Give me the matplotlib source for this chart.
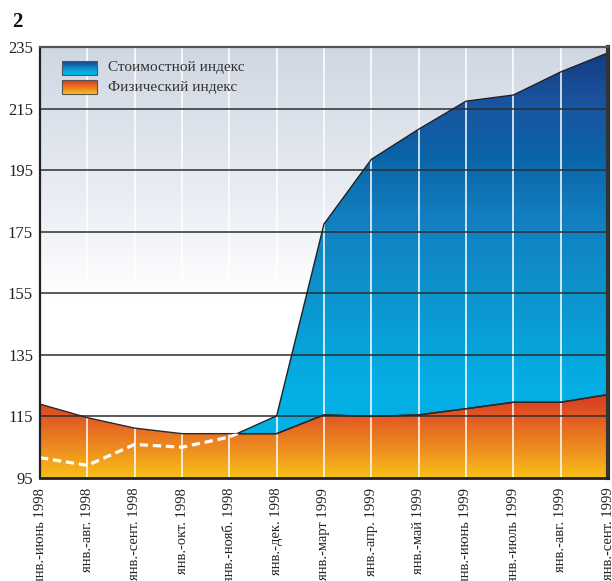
import numpy as np
import matplotlib
matplotlib.use("Agg")
import matplotlib.pyplot as plt
from matplotlib.colors import LinearSegmentedColormap
from matplotlib.path import Path

plt.rcParams['font.family'] = ['Liberation Serif', 'DejaVu Serif']

categories = ["янв.-июнь 1998", "янв.-авг. 1998", "янв.-сент. 1998", "янв.-окт. 1998",
              "янв.-нояб. 1998", "янв.-дек. 1998", "янв.-март 1999", "янв.-апр. 1999",
              "янв.-май 1999", "янв.-июнь 1999", "янв.-июль 1999", "янв.-авг. 1999",
              "янв.-сент. 1999"]
physical = [119.0, 114.6, 111.2, 109.4, 109.4, 109.4, 115.5, 115.0, 115.5, 117.5, 119.6, 119.6, 122.1]
value = [101.6, 99.1, 105.9, 105.0, 108.3, 115.2, 177.5, 198.5, 208.3, 217.4, 219.4, 226.9, 233.1]
yticks = [95, 115, 135, 155, 175, 195, 215, 235]
legend_labels = ["Стоимостной индекс", "Физический индекс"]
title_num = "2"

W, H = 612, 581
fig = plt.figure(figsize=(W / 100, H / 100), dpi=100)
ax = fig.add_axes([40 / W, 1 - 478 / H, 568 / W, 431 / H])

x = np.arange(len(categories))
phys = np.array(physical)
val = np.array(value)
ymin, ymax = yticks[0], yticks[-1]
x0, x1 = x[0], x[-1]

# background gradient
bg_cmap = LinearSegmentedColormap.from_list("bg", [(0, "#ffffff"), (0.42, "#ffffff"), (0.6, "#eef1f6"), (1.0, "#cfd7e3")])
grad = np.linspace(0, 1, 256).reshape(-1, 1)
ax.imshow(grad, extent=[x0, x1, ymin, ymax], origin="lower", aspect="auto", cmap=bg_cmap, zorder=0)

# orange area
orange = ax.fill_between(x, ymin, phys, facecolor="none", edgecolor="none", zorder=1)
or_cmap = LinearSegmentedColormap.from_list("or", [(0, "#f9c019"), (0.35, "#ee8d20"), (0.7, "#e25d22"), (1.0, "#d63a22")])
or_path = Path.make_compound_path(*orange.get_paths())
top_o = max(physical)
im_o = ax.imshow(grad, extent=[x0, x1, ymin, top_o], origin="lower", aspect="auto", cmap=or_cmap, zorder=1)
im_o.set_clip_path(or_path, transform=ax.transData)

# blue area
blue = ax.fill_between(x, phys, val, where=val >= phys, interpolate=True,
                       facecolor="none", edgecolor="#222222", linewidth=1.0, zorder=3)
bl_cmap = LinearSegmentedColormap.from_list("bl", [(0, "#00b4ea"), (0.22, "#04aee4"), (0.4, "#0c96d0"),
                                                    (0.6, "#1280c0"), (0.75, "#0a64a8"), (0.87, "#1a54a0"),
                                                    (1.0, "#133a7f")])
bl_path = Path.make_compound_path(*blue.get_paths())
im_b = ax.imshow(grad, extent=[x0, x1, ymin, ymax], origin="lower", aspect="auto", cmap=bl_cmap, zorder=1)
im_b.set_clip_path(bl_path, transform=ax.transData)

# grid lines
for xi in x[1:-1]:
    ax.axvline(xi, color="white", lw=1.3, alpha=0.85, zorder=2)
for yv in yticks[1:-1]:
    ax.axhline(yv, color="#2e2e2e", lw=1.1, zorder=2)

# physical line
ax.plot(x, phys, color="#2a2a2a", lw=1.0, zorder=3)

# dashed value line (visible below physical)
dl, = ax.plot(x, val, color="white", lw=2.3, ls=(0, (2.6, 1.5)), zorder=4)
dl.set_clip_path(or_path, transform=ax.transData)

ax.set_xlim(x0, x1)
ax.set_ylim(ymin, ymax)
ax.set_yticks(yticks)
ax.set_yticklabels([str(v) for v in yticks], fontsize=12, color="#222222")
ax.set_xticks(x)
ax.set_xticklabels(categories, rotation=90, fontsize=10.5, color="#222222", va="top", ha="center")
ax.tick_params(axis="both", length=0)
ax.tick_params(axis="y", pad=5)
ax.tick_params(axis="x", pad=7)

for s, (c, w) in {"left": ("#222222", 1.6), "bottom": ("#222222", 2.0),
                  "top": ("#555555", 1.6), "right": ("#333333", 3.0)}.items():
    ax.spines[s].set_color(c)
    ax.spines[s].set_linewidth(w)
    ax.spines[s].set_zorder(6)

# legend
sw_x0, sw_w = 22 / 568, 35 / 568
rows = [(1 - 14 / 431, 1 - 28 / 431, bl_cmap), (1 - 33 / 431, 1 - 47 / 431, or_cmap)]
for (yt, yb, cm), lab in zip(rows, legend_labels):
    g = np.linspace(0, 1, 64).reshape(-1, 1)
    ax.imshow(g, extent=[sw_x0, sw_x0 + sw_w, yb, yt], origin="lower", aspect="auto", cmap=cm,
              transform=ax.transAxes, zorder=5, vmin=0, vmax=1)
    ax.add_patch(plt.Rectangle((sw_x0, yb), sw_w, yt - yb, transform=ax.transAxes, fill=False,
                               edgecolor="#555555", lw=0.8, zorder=5))
    ax.text(68 / 568, (yt + yb) / 2, lab, transform=ax.transAxes, fontsize=11, color="#333333",
            va="center", ha="left", zorder=5)

ax.set_xlim(x0, x1)
ax.set_ylim(ymin, ymax)

fig.text(12 / W, 1 - 22 / H, title_num, fontsize=15, fontweight="bold", color="#111111", va="center", ha="left")

fig.savefig("out.png", dpi=100)
